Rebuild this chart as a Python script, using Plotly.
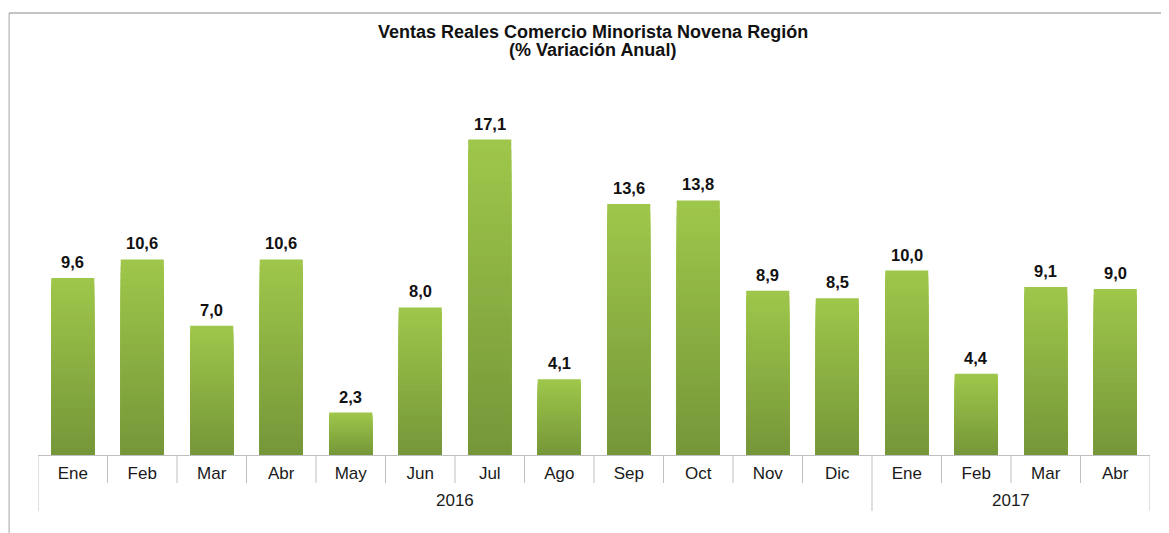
import plotly.graph_objects as go

title_lines = ["Ventas Reales Comercio Minorista Novena Región", "(% Variación Anual)"]
years = ["2016"] * 12 + ["2017"] * 4
months = ["Ene", "Feb", "Mar", "Abr", "May", "Jun", "Jul", "Ago", "Sep", "Oct", "Nov", "Dic",
          "Ene", "Feb", "Mar", "Abr"]
values = [9.6, 10.6, 7.0, 10.6, 2.3, 8.0, 17.1, 4.1, 13.6, 13.8, 8.9, 8.5,
          10.0, 4.4, 9.1, 9.0]

idx = list(range(len(values)))
top_rgb = (158, 198, 74)
bot_rgb = (118, 151, 57)
N = 30
FONT = "Liberation Sans"

fig = go.Figure()
for k in range(N):
    f = k / (N - 1)
    c = tuple(round(top_rgb[i] + (bot_rgb[i] - top_rgb[i]) * f) for i in range(3))
    frac = 1 - k / N
    fig.add_trace(go.Bar(
        x=idx,
        y=[v * frac for v in values],
        marker=dict(color="rgb(%d,%d,%d)" % c, line=dict(width=0)),
        width=0.62,
        hoverinfo="skip" if k > 0 else None,
        showlegend=False,
    ))

# value labels
for i, v in zip(idx, values):
    fig.add_annotation(x=i, y=v, text=f"{v:.1f}".replace(".", ","), showarrow=False,
                       yanchor="bottom", yshift=5,
                       font=dict(family=FONT, size=16.5, color="#111111", weight="bold"))

# title
for line, yp in zip(title_lines, [1.1463, 1.0976]):
    fig.add_annotation(text=line, xref="paper", yref="paper", x=0.499, y=yp,
                       xanchor="center", yanchor="middle", showarrow=False,
                       font=dict(family=FONT, size=18, color="#111111", weight="bold"))

plot_h = 369.0
sep_color = "#bfbfbf"
# month / year separators
for b in range(len(values) + 1):
    is_year_edge = b == 0 or b == len(values) or years[b] != years[b - 1]
    depth = 56 if is_year_edge else 28
    fig.add_shape(type="line", xref="x", yref="paper", x0=b - 0.5, x1=b - 0.5,
                  y0=0, y1=-depth / plot_h, line=dict(color=sep_color, width=1))

# year labels
uniq = []
for y in years:
    if y not in uniq:
        uniq.append(y)
for y in uniq:
    pos = [i for i in idx if years[i] == y]
    fig.add_annotation(text=y, xref="x", yref="paper", x=(pos[0] + pos[-1]) / 2,
                       y=-45 / plot_h, yanchor="middle", showarrow=False,
                       font=dict(family=FONT, size=17, color="#1a1a1a"))

fig.update_layout(
    width=1161, height=525,
    margin=dict(l=30, r=19, t=78, b=78),
    paper_bgcolor="white", plot_bgcolor="white",
    barmode="overlay",
    font=dict(family=FONT, size=17, color="#1a1a1a"),
)
fig.update_xaxes(
    range=[-0.5, len(values) - 0.5],
    tickmode="array", tickvals=idx, ticktext=months,
    ticks="", ticklabelstandoff=3,
    showline=True, linecolor=sep_color, linewidth=1,
    showgrid=False, zeroline=False, automargin=False,
    tickfont=dict(family=FONT, size=17, color="#1a1a1a"),
)
fig.update_yaxes(range=[0, 20], visible=False, showgrid=False, automargin=False)

# outer chart frame (partially visible)
fig.add_shape(type="line", xref="paper", yref="paper", x0=-0.026, x1=1.05, y0=1.198, y1=1.198,
              line=dict(color="#c4c4c4", width=2))
fig.add_shape(type="line", xref="paper", yref="paper", x0=-0.026, x1=-0.026, y0=1.198, y1=-0.3,
              line=dict(color="#a8a8a8", width=1))

fig.write_html("out.html")
